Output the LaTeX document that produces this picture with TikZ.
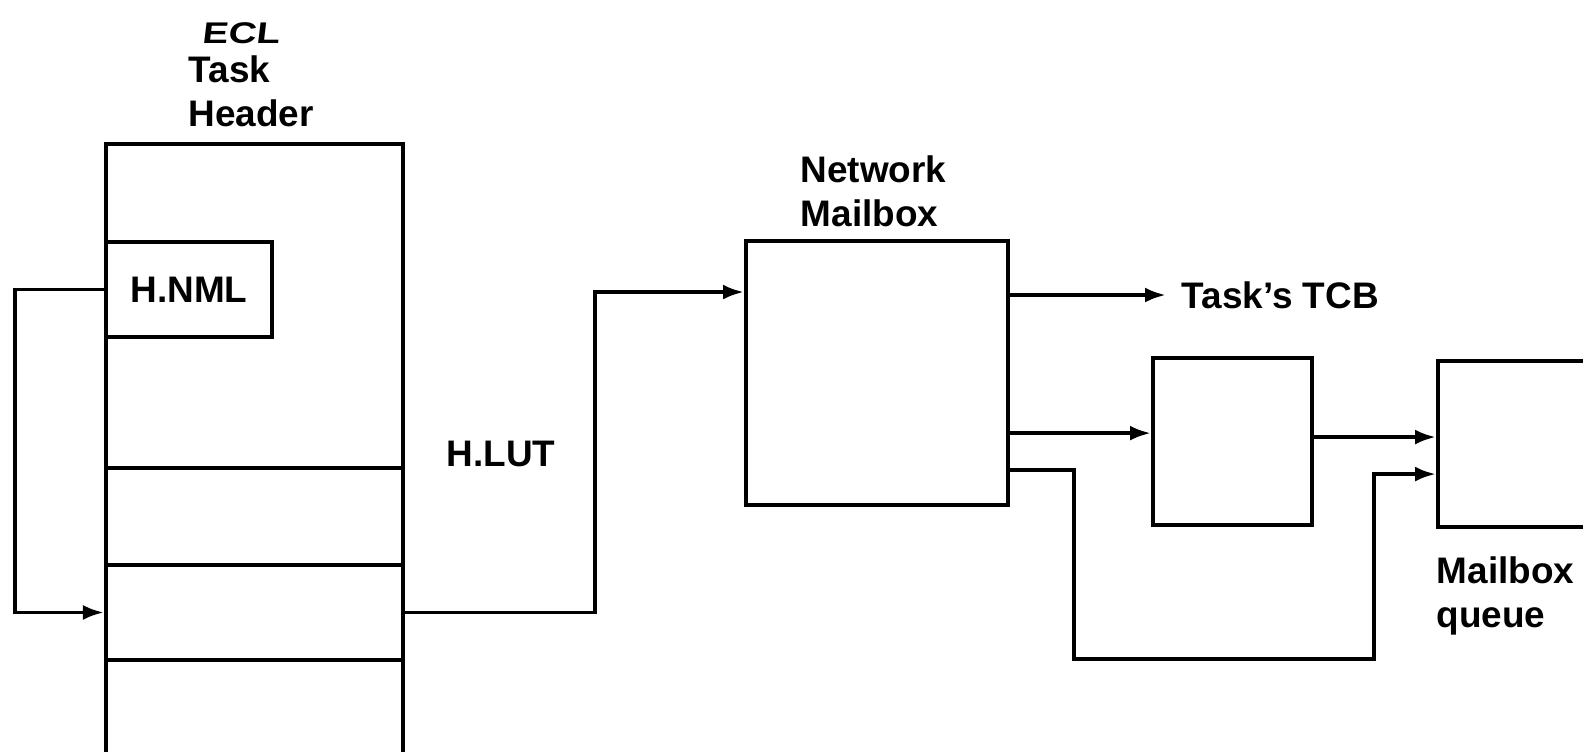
\documentclass[tikz,border=0pt]{standalone}
\usepackage{fontspec}
\setmainfont{Liberation Sans}
\usepackage{tikz}
\usetikzlibrary{arrows.meta, positioning, calc}

\begin{document}
\begin{tikzpicture}[x=0.01cm, y=-0.01cm,
        box/.style={draw, rectangle, line width=1.1pt, inner sep=0pt, anchor=north west},
        label/.style={font=\fontsize{10.5}{12.6}\selectfont\bfseries, align=left, inner sep=0pt},
        arrow/.style={line width=1.1pt, -{Latex[length=2.1mm, width=1.5mm]}}
    ]
    \useasboundingbox[fill=white] (0,0) rectangle (1583,751);

        % task header with its slots
        \node[box, minimum width=2.97cm, minimum height=6.3cm] (header) at (104,142) {};
        \node[box, minimum width=1.66cm, minimum height=0.95cm, label] (nml) at (104,240) {H.NML};
        \node[box, minimum width=2.97cm, minimum height=0.97cm] (slot1) at (104,466) {};
        \node[box, minimum width=2.97cm, minimum height=0.95cm] (slot2) at (104,563) {};
        \node[box, minimum width=2.97cm, minimum height=1.2cm] (slot3) at (104,658) {};

        \node[label, anchor=north west, font=\fontsize{8.5}{10}\selectfont\bfseries\addfontfeatures{FakeStretch=1.3, FakeSlant=0.12}] (ecl) at (201,22) {ECL};
        \node[label, anchor=north west] (hdrlabel) at (188,55) {Task\\Header};
        \node[label] (lut) at (501,454) {H.LUT};

        % mailboxes
        \node[box, minimum width=2.62cm, minimum height=2.64cm] (netbox) at (744,239) {};
        \node[label, anchor=north west] (netlabel) at (800,155) {Network\\Mailbox};
        \node[label, anchor=west, inner xsep=0.15cm] (tcb) at (1166,295) {Task’s TCB};
        \node[box, minimum width=1.59cm, minimum height=1.67cm] (msg) at (1151,356) {};
        \node[box, minimum width=1.7cm, minimum height=1.66cm] (queue) at (1436,359) {};
        \node[label, anchor=north west] (queuelabel) at (1436,556) {Mailbox\\queue};

        \coordinate (n1) at ([yshift=-0.56cm]netbox.north east);
        \coordinate (n2) at ([yshift=-1.94cm]netbox.north east);
        \coordinate (n3) at ([yshift=-2.31cm]netbox.north east);
        \coordinate (m1) at ([yshift=-0.81cm]msg.north east);

        % connectors
        \draw[arrow] (nml.west) -- ++(-89,0) |- (slot2.west);
        \draw[arrow] (slot2.east) -- ++(190,0) |- ([yshift=-0.53cm]netbox.north west);
        \draw[arrow] (n1) -- (tcb.west);
        \draw[arrow] (n2) -- (n2 -| msg.west);
        \draw[arrow] (m1) -- (m1 -| queue.west);
        \draw[arrow] (n3) -- ++(64,0) -- ++(0,189) -- ++(300,0) |- ([yshift=-1.15cm]queue.north west);
    \end{tikzpicture}
\end{document}
